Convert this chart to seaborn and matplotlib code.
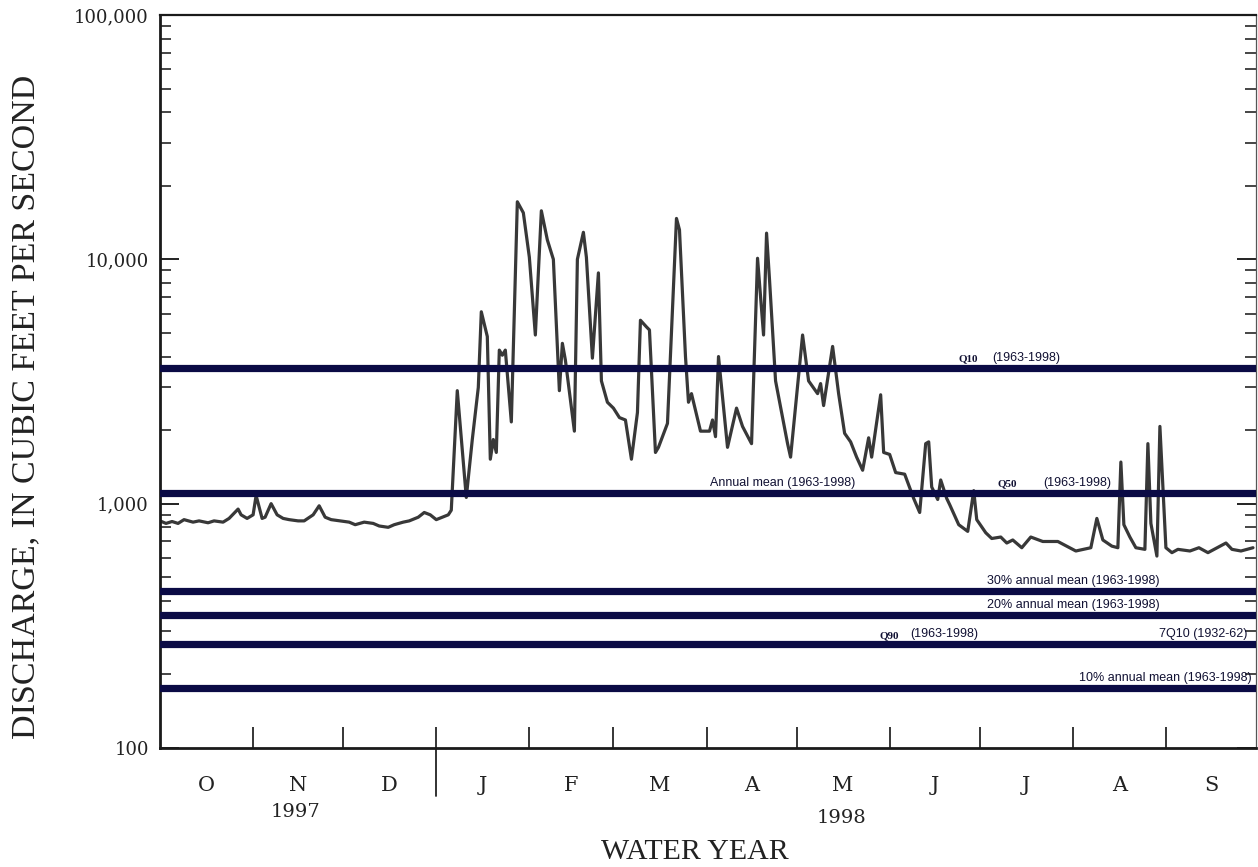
import pandas as pd
import seaborn as sns
import matplotlib.pyplot as plt
import matplotlib.dates as mdates
import matplotlib.transforms as mtransforms
from matplotlib.ticker import FixedLocator, FixedFormatter, LogLocator, NullFormatter

day = [0, 2, 4, 6, 8, 11, 13, 16, 18, 21, 23, 26, 27, 29,
       31, 32, 34, 35, 37, 39, 41, 43, 46, 48, 51, 53, 55, 57, 60,
       63, 65, 68, 71, 73, 76, 78, 81, 83, 86, 88, 90,
       92, 94, 96, 97, 99, 102, 104, 106, 107, 109, 110, 111, 112, 113, 114, 115, 117, 119, 121,
       123, 125, 127, 129, 131, 133, 134, 135, 138, 139, 141, 142, 144, 146, 147, 149,
       151, 153, 155, 157, 159, 160, 162, 163, 165, 166, 169, 172, 173, 175, 176, 177, 180,
       183, 184, 185, 186, 189, 192, 194, 197, 199, 201, 202, 203, 205, 209, 210,
       214, 216, 219, 220, 221, 224, 226, 228, 230, 232, 234, 236, 237, 240, 241,
       243, 245, 248, 251, 253, 255, 256, 257, 259, 260, 262, 263, 266, 269, 271, 272,
       275, 277, 280, 282, 284, 287, 290, 294, 299,
       305, 310, 312, 314, 317, 319, 320, 321, 323, 325, 328, 329, 330, 332, 333,
       335, 337, 339, 343, 346, 349, 355, 357, 360, 364]
discharge = [850, 830, 845, 830, 860, 840, 850, 835, 850, 840, 870, 950, 900, 870,
             900, 1080, 870, 880, 1000, 900, 870, 860, 850, 850, 900, 980, 880, 860, 850,
             840, 820, 840, 830, 810, 800, 820, 840, 850, 880, 920, 900,
             860, 880, 900, 940, 2900, 1060, 1830, 2990, 6100, 4830, 1520, 1830, 1620, 4250, 4050, 4250, 2160, 17200, 15500,
             10200, 4900, 15800, 12000, 10000, 2900, 4530, 3870, 1980, 10000, 12900, 10200, 3940, 8800, 3180, 2600,
             2460, 2250, 2200, 1520, 2360, 5630, 5290, 5140, 1620, 1700, 2130, 14700, 13200, 4000, 2600, 2820, 1980,
             1980, 2200, 1880, 4000, 1700, 2460, 2070, 1760, 10100, 4900, 12800, 8200, 3180, 1760, 1550,
             4900, 3180, 2820, 3100, 2520, 4400, 2820, 1940, 1790, 1550, 1370, 1860, 1550, 2790, 1620,
             1590, 1340, 1320, 1050, 920, 1760, 1790, 1170, 1040, 1250, 1050, 990, 820, 770, 1130, 860,
             760, 720, 730, 690, 710, 660, 730, 700, 700,
             640, 660, 870, 710, 670, 660, 1480, 820, 730, 660, 650, 1760, 830, 610, 2070,
             660, 630, 650, 640, 660, 630, 690, 650, 640, 660]

# reference flow levels (cfs)
q10 = 3590
annual_mean = 1105
pct30_mean = 439
pct20_mean = 350
q90 = 266
pct10_mean = 176
ref_levels = [q10, annual_mean, pct30_mean, pct20_mean, q90, pct10_mean]

month_letters = ["O", "N", "D", "J", "F", "M", "A", "M", "J", "J", "A", "S"]
ytick_vals = [100, 1000, 10000, 100000]
ytick_labels = ["100", "1,000", "10,000", "100,000"]

start = pd.Timestamp("1997-10-01")
end = pd.Timestamp("1998-10-01")
df = pd.DataFrame({"date": start + pd.to_timedelta(day, unit="D"), "cfs": discharge})

sns.set_style("ticks")
plt.rcParams["font.family"] = ["DejaVu Serif"]

fig = plt.figure(figsize=(12.58, 8.67), dpi=100)
ax = fig.add_axes([0.1272, 0.1373, 0.8712, 0.8454])

sns.lineplot(data=df, x="date", y="cfs", ax=ax, color="#383838", lw=2.3,
             estimator=None, zorder=2)

navy = "#0b0b45"
for lev in ref_levels:
    ax.axhline(lev, color=navy, lw=5.2, zorder=3)

ax.set_yscale("log")
ax.set_ylim(100, 100000)
ax.set_xlim(start, end)

# y axis
ax.yaxis.set_major_locator(FixedLocator(ytick_vals))
ax.yaxis.set_major_formatter(FixedFormatter(ytick_labels))
ax.yaxis.set_minor_locator(LogLocator(base=10, subs=range(2, 10)))
ax.yaxis.set_minor_formatter(NullFormatter())
ax.tick_params(axis="y", which="major", direction="in", length=14, width=1.4,
               labelsize=13, pad=8, right=True, colors="#222222")
ax.tick_params(axis="y", which="minor", direction="in", length=8, width=1.2, right=True)

# x axis: month boundaries as ticks, letters centred in each month
bounds = pd.date_range(start, end, freq="MS")
mids = [b + (bounds[i + 1] - b) / 2 for i, b in enumerate(bounds[:-1])]
ax.xaxis.set_major_locator(FixedLocator(mdates.date2num(bounds[1:-1])))
ax.xaxis.set_major_formatter(NullFormatter())
ax.xaxis.set_minor_locator(FixedLocator(mdates.date2num(mids)))
ax.xaxis.set_minor_formatter(FixedFormatter(month_letters))
ax.tick_params(axis="x", which="major", direction="in", length=15, width=1.3, top=False)
ax.tick_params(axis="x", which="minor", length=0, labelsize=15, pad=20, colors="#222222")
ax.set_xlabel("")
ax.set_ylabel("")

for side, lw in [("left", 2.0), ("bottom", 2.0), ("top", 1.6), ("right", 0.9)]:
    ax.spines[side].set_linewidth(lw)
    ax.spines[side].set_color("#1a1a1a" if side != "right" else "#555555")

# separator between calendar years
trans = mtransforms.blended_transform_factory(ax.transData, ax.transAxes)
jan1 = pd.Timestamp("1998-01-01")
ax.plot([jan1, jan1], [0, -0.065], transform=trans, clip_on=False, color="#222222", lw=1.3)

ax.text(pd.Timestamp("1997-11-15"), -0.087, "1997", transform=trans, ha="center", va="center",
        fontsize=14, color="#222222")
ax.text(pd.Timestamp("1998-05-16"), -0.095, "1998", transform=trans, ha="center", va="center",
        fontsize=14, color="#222222")

fig.text(0.5525, 0.017, "WATER YEAR", ha="center", va="center", fontsize=21.5,
         family="Liberation Serif", color="#222222")
fig.text(0.021, 0.531, "DISCHARGE, IN CUBIC FEET PER SECOND", rotation=90, ha="center",
         va="center", fontsize=24.5, family="Liberation Serif", color="#222222")


def line_label(txt, d, lev, ha="left", q=False):
    kw = dict(family="Liberation Serif", fontsize=8, fontweight="bold") if q else \
        dict(family="Liberation Sans", fontsize=9)
    ax.annotate(txt, xy=(start + pd.Timedelta(days=d), lev), xytext=(0, 3.2),
                textcoords="offset points", ha=ha, va="bottom", color="#111133",
                zorder=4, **kw)


line_label("Q10", 266, q10, q=True)
line_label("(1963-1998)", 277, q10)
line_label("Annual mean (1963-1998)", 183, annual_mean)
line_label("Q50", 279, annual_mean, q=True)
line_label("(1963-1998)", 294, annual_mean)
line_label("30% annual mean (1963-1998)", 275.5, pct30_mean)
line_label("20% annual mean (1963-1998)", 275.5, pct20_mean)
line_label("Q90", 239.5, q90, q=True)
line_label("(1963-1998)", 250, q90)
line_label("7Q10 (1932-62)", 362, q90, ha="right")
line_label("10% annual mean (1963-1998)", 363.5, pct10_mean, ha="right")

fig.savefig("out.png", dpi=100)
